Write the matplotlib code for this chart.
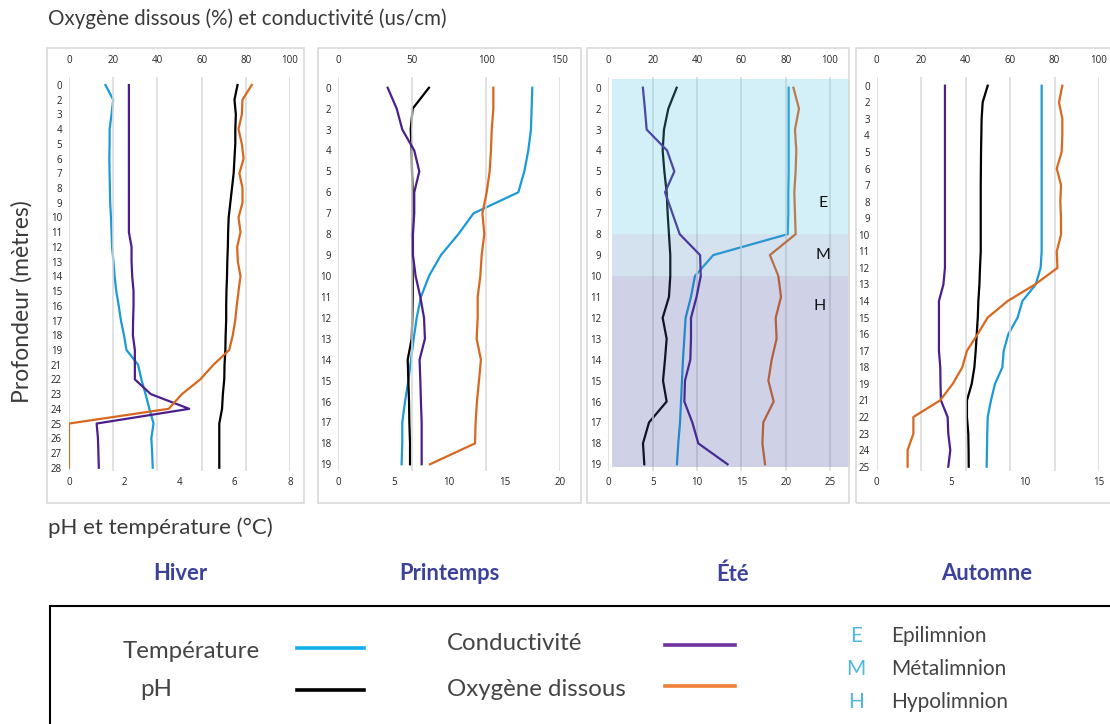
import matplotlib
matplotlib.use("Agg")
from matplotlib import pyplot as plt
from matplotlib.patches import Rectangle
from matplotlib.lines import Line2D

# ---- data ----
seasons = ["Hiver", "Printemps", "Été", "Automne"]

depth_hiver = [0, 2, 3, 4, 5, 6, 7, 8, 9, 10, 11, 12, 13, 14, 15, 16, 17, 18, 19,
               21, 22, 23, 24, 25, 26, 27, 28]
temp_hiver = [1.32, 1.60, 1.54, 1.47, 1.47, 1.46, 1.47, 1.48, 1.49, 1.52, 1.54, 1.56, 1.61, 1.65,
              1.71, 1.80, 1.88, 1.99, 2.08, 2.50, 2.62, 2.77, 2.91, 3.06, 2.98, 3.01, 3.03]
ph_hiver = [6.10, 5.99, 6.04, 6.02, 6.02, 5.99, 5.96, 5.90, 5.84, 5.78, 5.76, 5.75, 5.73, 5.72,
            5.70, 5.69, 5.69, 5.67, 5.66, 5.63, 5.62, 5.57, 5.54, 5.44, 5.44, 5.44, 5.44]
cond_hiver = [27.1, 27.1, 27.1, 27.1, 27.1, 27.1, 27.1, 27.1, 27.1, 27.1, 27.1, 28.3, 28.3, 28.6,
              29.2, 29.2, 29.0, 28.9, 29.8, 29.8, 29.8, 37.0, 54.4, 12.5, 13.1, 13.3, 13.5]
oxy_hiver = [82.7, 78.5, 78.2, 76.7, 78.2, 79.0, 77.1, 78.5, 78.5, 76.7, 77.6, 76.1, 76.4, 77.6,
             76.7, 75.9, 75.2, 74.1, 72.5, 65.4, 59.4, 51.1, 45.1, 0, 0, 0, 0]

depth_printemps = [0, 2, 3, 4, 5, 6, 7, 8, 9, 10, 11, 12, 13, 14, 15, 16, 17, 18, 19]
temp_printemps = [17.5, 17.44, 17.38, 17.14, 16.78, 16.24, 12.21, 10.83, 9.26, 8.18, 7.46, 7.07,
                  6.80, 6.56, 6.32, 6.02, 5.77, 5.77, 5.71]
ph_printemps = [8.18, 6.71, 6.53, 6.62, 6.65, 6.71, 6.71, 6.65, 6.68, 6.71, 6.71, 6.68, 6.62,
                6.26, 6.32, 6.38, 6.41, 6.47, 6.47]
cond_printemps = [33.4, 39.5, 43.3, 51.4, 54.8, 51.4, 51.4, 50.5, 50.5, 52.3, 55.5, 58.0, 58.6,
                  55.0, 55.5, 55.9, 56.4, 56.4, 56.4]
oxy_printemps = [104.9, 104.9, 103.8, 103.3, 102.4, 100.4, 97.5, 98.8, 97.0, 96.1, 94.3, 94.3,
                 93.6, 96.5, 95.2, 93.8, 92.9, 92.5, 62.0]

depth_ete = [0, 2, 3, 4, 5, 6, 7, 8, 9, 10, 11, 12, 13, 14, 15, 16, 17, 18, 19]
temp_ete = [20.34, 20.34, 20.34, 20.34, 20.34, 20.3, 20.3, 20.23, 11.84, 9.77, 9.32, 8.72, 8.57,
            8.42, 8.31, 8.20, 8.09, 7.89, 7.74]
ph_ete = [7.71, 6.77, 6.28, 6.13, 6.32, 6.58, 6.69, 6.84, 6.99, 6.99, 6.84, 6.13, 6.58, 6.39,
          6.17, 6.58, 4.59, 3.91, 4.06]
cond_ete = [15.6, 16.5, 17.3, 26.5, 29.8, 25.6, 28.9, 32.2, 41.4, 41.7, 39.8, 37.3, 37.3, 37.0,
            34.6, 34.3, 37.9, 40.6, 53.8]
oxy_ete = [83.5, 86.0, 84.2, 84.8, 84.5, 83.9, 84.2, 84.5, 72.9, 76.7, 77.9, 75.5, 75.9, 73.7,
           72.2, 74.6, 69.9, 69.5, 70.7]

depth_automne = [0, 2, 3, 4, 5, 6, 7, 8, 9, 10, 11, 12, 13, 14, 15, 16, 17, 18, 19,
                 21, 22, 23, 24, 25]
temp_automne = [11.13, 11.13, 11.13, 11.13, 11.13, 11.13, 11.13, 11.13, 11.13, 11.13, 11.13,
                11.06, 10.73, 9.83, 9.51, 8.88, 8.57, 8.48, 7.98, 7.71, 7.49, 7.46, 7.44, 7.42]
ph_automne = [7.49, 7.15, 7.08, 7.06, 7.04, 7.03, 7.02, 7.02, 7.02, 7.02, 7.02, 6.97, 6.93,
              6.86, 6.82, 6.75, 6.68, 6.59, 6.41, 6.09, 6.09, 6.18, 6.20, 6.21]
cond_automne = [30.7, 30.7, 30.7, 30.7, 30.7, 30.7, 30.7, 30.7, 30.7, 30.7, 30.7, 30.7, 30.0,
                28.0, 28.0, 28.0, 28.0, 28.6, 28.7, 28.9, 31.9, 32.2, 33.1, 32.2]
oxy_automne = [83.5, 82.0, 83.5, 83.5, 83.2, 81.0, 82.9, 82.6, 82.9, 82.9, 81.0, 81.3, 71.2,
               58.9, 49.9, 45.4, 40.6, 38.5, 34.2, 28.5, 16.5, 16.5, 13.9, 13.9]

# summer stratification layers (depth limits)
zone_names = ["E", "M", "H"]
zone_full = ["Epilimnion", "Métalimnion", "Hypolimnion"]
zone_top = [0, 8, 10]
zone_bottom = [8, 10, 19]

# axis maxima / tick steps per season: top axis (O2 %, conductivity), bottom (pH, °C)
top_max = [100, 150, 100, 100]
top_step = [20, 50, 20, 20]
bot_max = [8, 20, 25, 15]
bot_step = [2, 5, 5, 5]

# ---- style ----
C_TEMP = "#1c9ad6"
C_PH = "#000000"
C_COND = "#4a1f8c"
C_OXY = "#d8681f"
ZONE_COLORS = ["#53c3e3", "#538cbf", "#434fa3"]
TXT = "#3a3a3a"
SEASON_C = "#3c4299"
FONT = ["Lato", "DejaVu Sans"]
TICKFONT = ["Open Sans", "DejaVu Sans"]

W, H = 1110, 724
fig = plt.figure(figsize=(W / 100, H / 100), dpi=100)


def fx(px):
    return px / W


def fy(py):
    return 1 - py / H


# pixel layout of each panel: x of value 0, x of max tick, right edge, first row y, last row y
layout = [
    dict(x0=69, x1=290, xr=290, r0=85.0, r1=467.7, box=(47, 304)),
    dict(x0=338.3, x1=560, xr=560, r0=87.7, r1=464.3, box=(318, 581)),
    dict(x0=608.3, x1=830, xr=850, r0=87.7, r1=464.3, box=(587, 849)),
    dict(x0=876.7, x1=1099, xr=1099, r0=85.7, r1=466.7, box=(856, 1120)),
]
AX_TOP, AX_BOT = 77, 471
BOX_TOP, BOX_BOT = 48, 503

data = [
    (depth_hiver, temp_hiver, ph_hiver, cond_hiver, oxy_hiver),
    (depth_printemps, temp_printemps, ph_printemps, cond_printemps, oxy_printemps),
    (depth_ete, temp_ete, ph_ete, cond_ete, oxy_ete),
    (depth_automne, temp_automne, ph_automne, cond_automne, oxy_automne),
]

season_x = [180, 449, 733, 987]

for k, (depth, temp, ph, cond, oxy) in enumerate(data):
    L = layout[k]
    b0, b1 = L["box"]
    fig.patches.append(Rectangle((fx(b0), fy(BOX_BOT)), fx(b1 - b0), (BOX_BOT - BOX_TOP) / H,
                                 transform=fig.transFigure, fill=False,
                                 edgecolor="#d9d9d9", lw=1.2, zorder=0))

    ax = fig.add_axes([fx(L["x0"]), fy(AX_BOT), fx(L["xr"] - L["x0"]), (AX_BOT - AX_TOP) / H])
    axt = ax.twiny()
    n = len(depth)
    idx = list(range(n))
    sp = (L["r1"] - L["r0"]) / (n - 1)
    ylo = (n - 1) + (AX_BOT - L["r1"]) / sp
    yhi = -(L["r0"] - AX_TOP) / sp
    stretch = (L["xr"] - L["x0"]) / (L["x1"] - L["x0"])
    ax.set_xlim(0, bot_max[k] * stretch)
    axt.set_xlim(0, top_max[k] * stretch)
    ax.set_ylim(ylo, yhi)

    ax.set_xticks(range(0, bot_max[k] + 1, bot_step[k]))
    axt.set_xticks(range(0, top_max[k] + 1, top_step[k]))
    ax.set_yticks(idx)
    ax.set_yticklabels([str(d) for d in depth])

    for a in (ax, axt):
        for s in a.spines.values():
            s.set_visible(False)
        a.tick_params(length=0, labelsize=7, colors="#222222")
        for lab in a.get_xticklabels() + a.get_yticklabels():
            lab.set_family(TICKFONT)
    ax.tick_params(axis="x", pad=4)
    axt.tick_params(axis="x", pad=8)
    ax.tick_params(axis="y", pad=5)

    axt.grid(axis="x", color="#d9d9d9", lw=1.1)
    axt.set_axisbelow(True)
    ax.patch.set_visible(False)

    ax.plot(temp, idx, color=C_TEMP, lw=1.6, zorder=3)
    ax.plot(ph, idx, color=C_PH, lw=1.6, zorder=3)
    axt.plot(cond, idx, color=C_COND, lw=1.6, zorder=3)
    axt.plot(oxy, idx, color=C_OXY, lw=1.6, zorder=3)

    if seasons[k] == "Été":
        pos = {d: i for i, d in enumerate(depth)}
        xmin = (612 - L["x0"]) / (L["xr"] - L["x0"])
        for j in range(len(zone_names)):
            ya = pos[zone_top[j]] if zone_top[j] != depth[0] else yhi + 0.1
            yb = pos[zone_bottom[j]] if zone_bottom[j] != depth[-1] else n - 1 + 0.15
            axt.axhspan(ya, yb, xmin=xmin, xmax=1, color=ZONE_COLORS[j], alpha=0.25,
                        lw=0, zorder=5)
        lab_pos = [(96.7, 5.5), (96.7, 8.0), (95.5, 10.45)]
        for j, (xv, yv) in enumerate(lab_pos):
            axt.text(xv, yv, zone_names[j], ha="center", va="center", fontsize=11.5,
                     family=FONT, color="#111111", zorder=6)

    fig.text(fx(season_x[k]), fy(574), seasons[k], ha="center", va="center",
             fontsize=15.8, fontweight="bold", color=SEASON_C, family=FONT)

# ---- titles ----
fig.text(fx(48), fy(19), "Oxygène dissous (%) et conductivité (us/cm)", ha="left",
         va="center", fontsize=14.8, color=TXT, family=FONT)
fig.text(fx(48), fy(528), "pH et température (°C)", ha="left", va="center", fontsize=16,
         color=TXT, family=FONT)
fig.text(fx(22), fy(302), "Profondeur (mètres)", ha="center", va="center", rotation=90,
         fontsize=16.5, color=TXT, family=FONT)

# ---- legend ----
fig.patches.append(Rectangle((fx(50), fy(740)), fx(1080), (740 - 606) / H,
                             transform=fig.transFigure, fill=False, edgecolor="black",
                             lw=1.5, zorder=0))
legend_items = [
    ("Température", C_TEMP, 123, 651, 297, 364, 648),
    ("pH", C_PH, 140, 690, 297, 364, 690),
    ("Conductivité", C_COND, 447, 644, 665, 735, 645),
    ("Oxygène dissous", C_OXY, 447, 689, 665, 735, 686),
]
leg_colors = {C_TEMP: "#14b0ea", C_PH: "#000000", C_COND: "#7030a0", C_OXY: "#f08038"}
for name, c, tx, ty, lx0, lx1, ly in legend_items:
    fig.text(fx(tx), fy(ty), name, ha="left", va="center", fontsize=17.3,
             color="#444444", family=FONT)
    fig.lines.append(Line2D([fx(lx0), fx(lx1)], [fy(ly), fy(ly)], transform=fig.transFigure,
                            color=leg_colors[c], lw=2.6))
for j, (nm, full) in enumerate(zip(zone_names, zone_full)):
    yy = 636 + 33 * j
    fig.text(fx(856), fy(yy), nm, ha="center", va="center", fontsize=15,
             color="#4fb8e0", family=FONT)
    fig.text(fx(891), fy(yy), full, ha="left", va="center", fontsize=15,
             color="#444444", family=FONT)

fig.savefig("out.png", dpi=100)
